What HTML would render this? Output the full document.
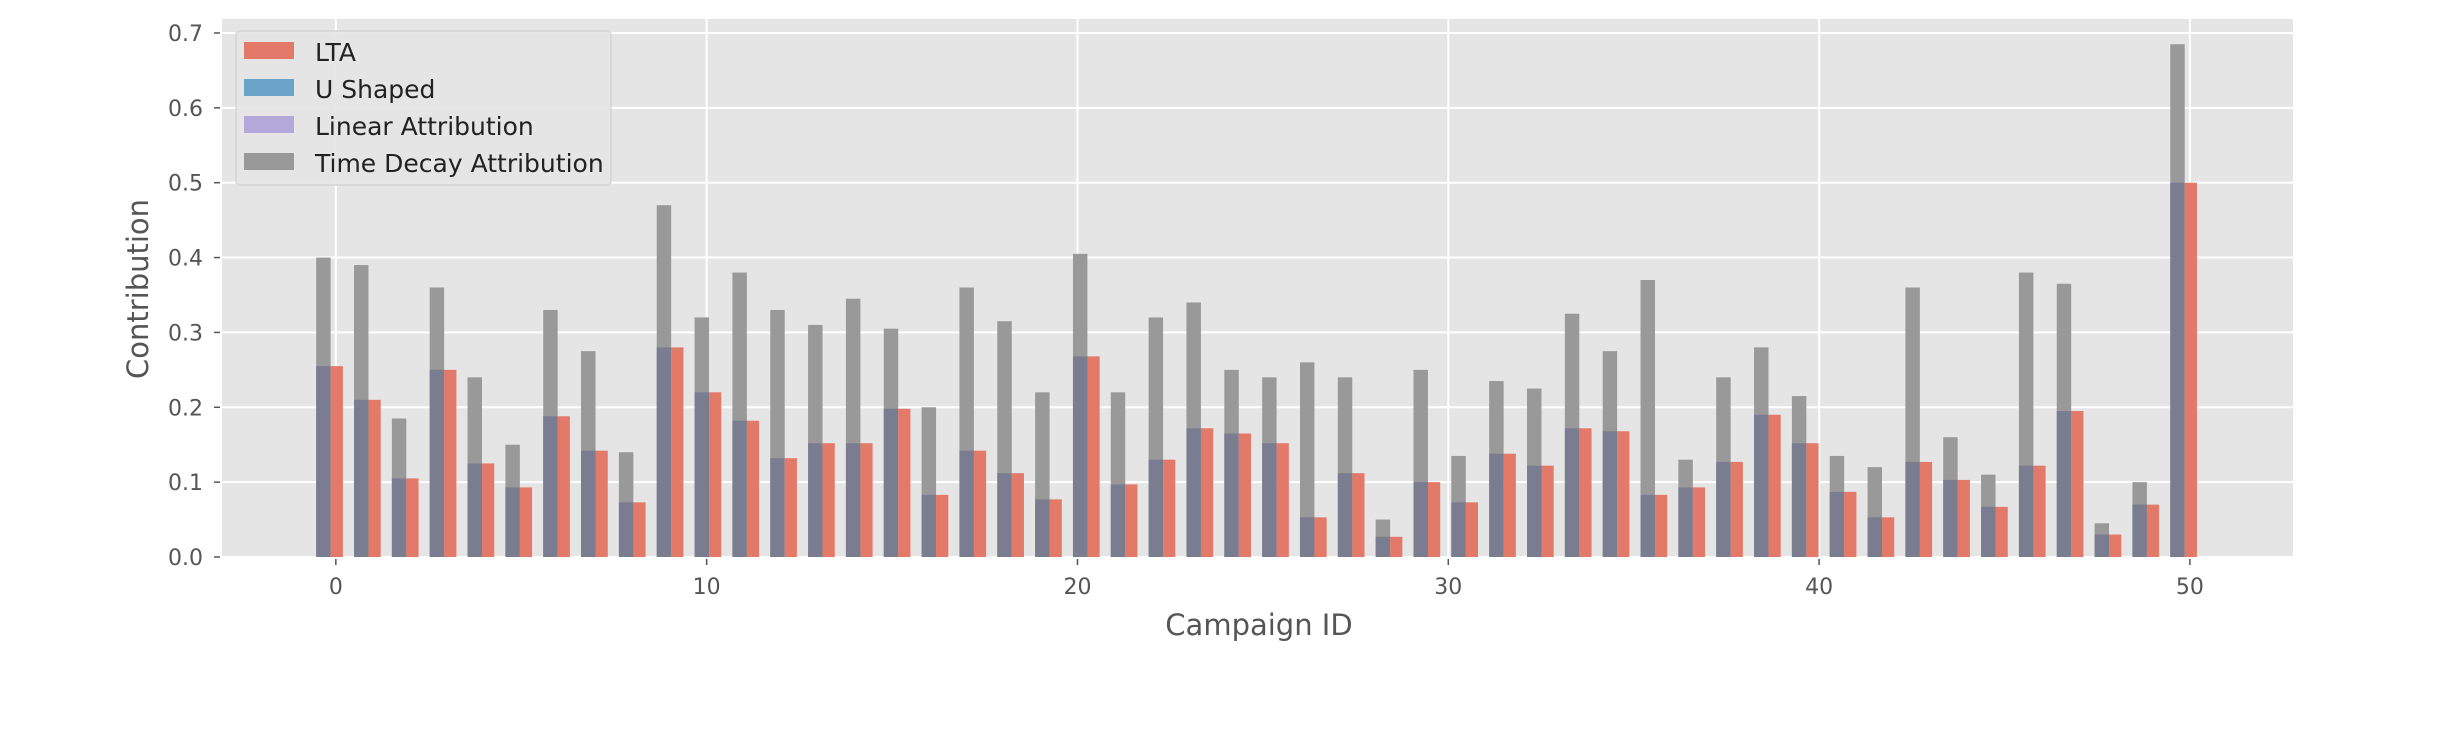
<!DOCTYPE html>
<html><head><meta charset="utf-8"><style>
html,body{margin:0;padding:0;background:#fff;}
svg{display:block;font-family:"DejaVu Sans","Liberation Sans",sans-serif;}
</style></head><body>
<svg id="chart" width="2452" height="735" viewBox="0 0 2452 735" xmlns="http://www.w3.org/2000/svg">
<rect x="222" y="19" width="2071" height="538" fill="#e5e5e5"/>
<g id="grid"></g>
<g id="bars"></g>
<g id="axes"></g>
<g>
<rect x="236" y="31" width="375" height="154" rx="4" fill="#e5e5e5" stroke="#d4d4d4" stroke-width="1.5" opacity="0.9"/>
<rect x="244" y="42" width="50" height="17" fill="#e37a69"/>
<text x="315" y="61" font-size="25" fill="#222">LTA</text>
<rect x="244" y="79" width="50" height="17" fill="#6aa5c9"/>
<text x="315" y="98" font-size="25" fill="#222">U Shaped</text>
<rect x="244" y="116" width="50" height="17" fill="#b2a8da"/>
<text x="315" y="135" font-size="25" fill="#222">Linear Attribution</text>
<rect x="244" y="153" width="50" height="17" fill="#999999"/>
<text x="315" y="172" font-size="25" fill="#222">Time Decay Attribution</text>
</g>
<text x="1259" y="635" font-size="29" fill="#555" text-anchor="middle">Campaign ID</text>
<text x="0" y="0" font-size="29" fill="#555" text-anchor="middle" transform="translate(148,289) rotate(-90)">Contribution</text>
</svg>
<script>
const campaignIndex = [0,1,2,3,4,5,6,7,8,9,10,11,12,13,14,15,16,17,18,19,20,21,22,23,24,25,26,27,28,29,30,31,32,33,34,35,36,37,38,39,40,41,42,43,44,45,46,47,48,49];
const timeDecay = [0.40,0.39,0.185,0.36,0.24,0.15,0.33,0.275,0.14,0.47,0.32,0.38,0.33,0.31,0.345,0.305,0.20,0.36,0.315,0.22,0.405,0.22,0.32,0.34,0.25,0.24,0.26,0.24,0.05,0.25,0.135,0.235,0.225,0.325,0.275,0.37,0.13,0.24,0.28,0.215,0.135,0.12,0.36,0.16,0.11,0.38,0.365,0.045,0.10,0.685];
const lta = [0.255,0.21,0.105,0.25,0.125,0.093,0.188,0.142,0.073,0.28,0.22,0.182,0.132,0.152,0.152,0.198,0.083,0.142,0.112,0.077,0.268,0.097,0.13,0.172,0.165,0.152,0.053,0.112,0.027,0.1,0.073,0.138,0.122,0.172,0.168,0.083,0.093,0.127,0.19,0.152,0.087,0.053,0.127,0.103,0.067,0.122,0.195,0.03,0.07,0.5];
const yTicks = [0,0.1,0.2,0.3,0.4,0.5,0.6,0.7];
const yTickLabels = ["0.0","0.1","0.2","0.3","0.4","0.5","0.6","0.7"];
const xTicks = [0,10,20,30,40,50];
const xTickLabels = ["0","10","20","30","40","50"];

const NS="http://www.w3.org/2000/svg";
const X0=222,X1=2293,Y0=557,Y1=19;
const xMin=-3.07,xMax=52.78;
function xs(v){return X0+(v-xMin)/(xMax-xMin)*(X1-X0);}
function ys(v){return Y0-v*748.6;}
function pos(i){return i*50/(campaignIndex.length-1);}
function mk(tag,attrs,parent){const e=document.createElementNS(NS,tag);for(const k in attrs)e.setAttribute(k,attrs[k]);parent.appendChild(e);return e;}
const grid=document.getElementById('grid'),bars=document.getElementById('bars'),axes=document.getElementById('axes');
yTicks.forEach((t,i)=>{
  const l=mk('line',{x1:X0,x2:X1,y1:ys(t),y2:ys(t),stroke:'#fff','stroke-width':2},grid);
  
  
  const tk=mk('line',{x1:X0-8,x2:X0-2,y1:ys(t),y2:ys(t),stroke:'#555','stroke-width':1.5},axes);
  
  
  const tx=mk('text',{x:X0-19,y:ys(t)+8,'font-size':22,fill:'#555','text-anchor':'end'},axes);
  tx.textContent=yTickLabels[i];
  
  
});
xTicks.forEach((t,i)=>{
  const l=mk('line',{x1:xs(t),x2:xs(t),y1:Y1,y2:Y0,stroke:'#fff','stroke-width':2},grid);
  
  
  const tk=mk('line',{x1:xs(t),x2:xs(t),y1:Y0+2,y2:Y0+8,stroke:'#555','stroke-width':1.5},axes);
  
  
  const tx=mk('text',{x:xs(t),y:Y0+37,'font-size':22,fill:'#555','text-anchor':'middle'},axes);
  tx.textContent=xTickLabels[i];
  
  
});
campaignIndex.forEach((c,i)=>{
  const p=pos(c);
  const gl=xs(p-0.53),gr=xs(p-0.14),rr=xs(p+0.19);
  const g=mk('rect',{x:gl,y:ys(timeDecay[i]),width:gr-gl,height:Y0-ys(timeDecay[i]),fill:'#999999'},bars);
  
  
  const o=mk('rect',{x:gl,y:ys(lta[i]),width:gr-gl,height:Y0-ys(lta[i]),fill:'#7a7d8f'},bars);
  
  
  const r=mk('rect',{x:gr,y:ys(lta[i]),width:rr-gr,height:Y0-ys(lta[i]),fill:'#e37a69'},bars);
  
  
});
</script>
</body></html>
